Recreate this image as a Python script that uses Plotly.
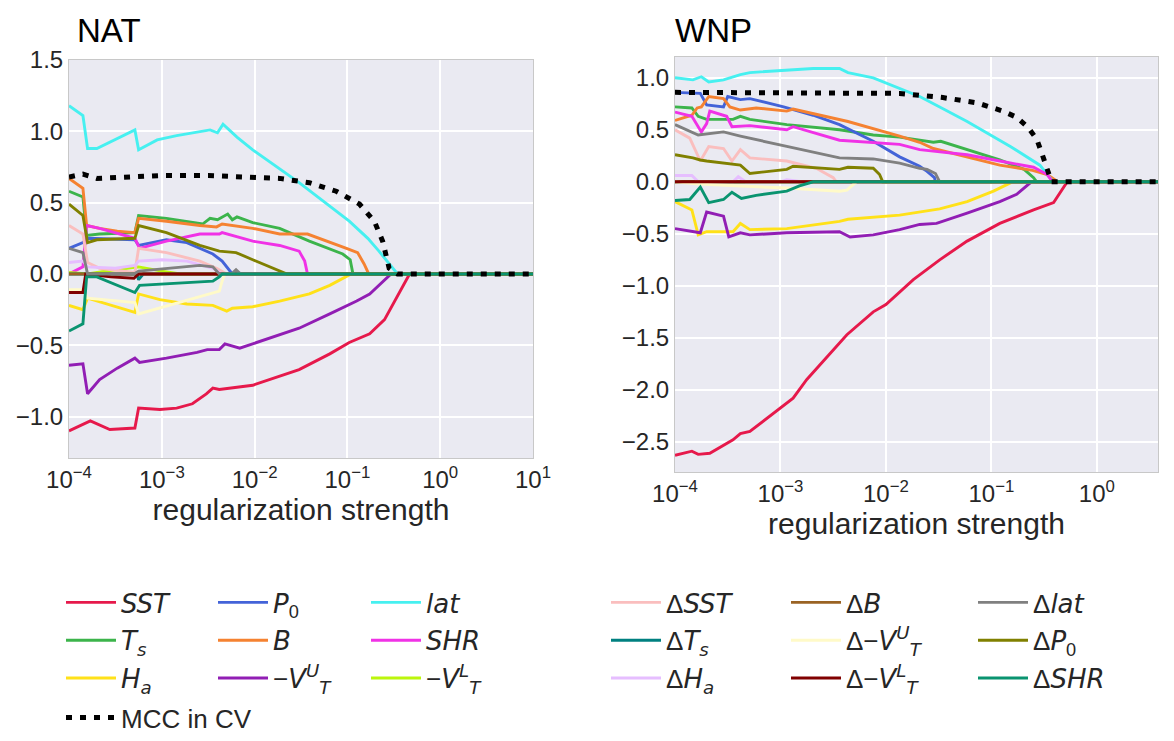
import plotly.graph_objects as go

# ---------------- data: (log10(regularization strength), coefficient) ----------------
NAT_SST = [(-4.00,-1.10),(-3.77,-1.03),(-3.56,-1.09),(-3.29,-1.08),(-3.25,-0.94),(-3.02,-0.95),(-2.84,-0.94),
           (-2.67,-0.91),(-2.52,-0.84),(-2.45,-0.80),(-2.38,-0.81),(-2.24,-0.80),(-2.02,-0.78),(-1.52,-0.67),
           (-1.19,-0.56),(-0.98,-0.48),(-0.76,-0.42),(-0.60,-0.32),(-0.49,-0.19),(-0.33,0.0),(1.0,0.0)]
NAT_TS = [(-4.00,0.58),(-3.85,0.54),(-3.81,0.27),(-3.67,0.28),(-3.29,0.29),(-3.25,0.41),(-2.95,0.39),(-2.56,0.35),
          (-2.48,0.39),(-2.40,0.38),(-2.29,0.42),(-2.24,0.38),(-2.19,0.40),(-2.02,0.36),(-1.73,0.32),(-1.41,0.23),
          (-1.05,0.14),(-0.97,0.10),(-0.94,0.0),(1.0,0.0)]
NAT_HA = [(-4.00,-0.22),(-3.85,-0.25),(-3.80,-0.17),(-3.29,-0.27),(-3.25,-0.14),(-3.02,-0.18),(-2.73,-0.21),
          (-2.45,-0.22),(-2.30,-0.26),(-2.24,-0.24),(-2.02,-0.23),(-1.73,-0.19),(-1.41,-0.14),(-1.19,-0.08),
          (-0.96,0.0),(1.0,0.0)]
NAT_P0 = [(-4.00,0.18),(-3.85,0.22),(-3.80,0.25),(-3.29,0.24),(-3.25,0.20),(-2.95,0.24),(-2.73,0.22),(-2.45,0.14),
          (-2.35,0.09),(-2.27,0.02),(-2.24,0.0),(1.0,0.0)]
NAT_B = [(-4.00,0.67),(-3.85,0.60),(-3.81,0.34),(-3.67,0.32),(-3.48,0.30),(-3.29,0.29),(-3.25,0.39),(-2.95,0.37),
         (-2.59,0.34),(-2.41,0.33),(-2.35,0.35),(-2.02,0.32),(-1.73,0.28),(-1.43,0.28),(-1.01,0.18),(-0.89,0.15),
         (-0.82,0.07),(-0.77,0.0),(1.0,0.0)]
NAT_VTU = [(-4.00,-0.64),(-3.85,-0.63),(-3.80,-0.84),(-3.67,-0.74),(-3.48,-0.66),(-3.29,-0.59),(-3.24,-0.62),
           (-2.95,-0.59),(-2.62,-0.55),(-2.51,-0.53),(-2.38,-0.53),(-2.32,-0.49),(-2.16,-0.52),(-2.02,-0.49),
           (-1.52,-0.38),(-1.19,-0.28),(-0.90,-0.19),(-0.76,-0.14),(-0.55,-0.01),(-0.53,0.0),(1.0,0.0)]
NAT_LAT = [(-4.00,1.18),(-3.85,1.11),(-3.80,0.88),(-3.70,0.88),(-3.29,1.01),(-3.25,0.87),(-3.05,0.94),(-2.84,0.97),
           (-2.48,1.01),(-2.40,0.99),(-2.34,1.05),(-2.19,0.96),(-2.02,0.87),(-1.73,0.74),(-1.52,0.64),(-0.98,0.37),
           (-0.78,0.25),(-0.66,0.16),(-0.46,0.0),(1.0,0.0)]
NAT_SHR = [(-4.00,0.0),(-3.85,0.05),(-3.81,0.34),(-3.67,0.32),(-3.29,0.25),(-3.24,0.18),(-2.95,0.23),(-2.59,0.28),
           (-2.38,0.28),(-2.35,0.29),(-2.02,0.23),(-1.73,0.20),(-1.52,0.16),(-1.46,0.09),(-1.43,0.0),(1.0,0.0)]
NAT_VTL = [(-4.00,0.01),(-3.80,0.0),(-3.50,0.03),(-3.25,0.05),(-3.00,0.02),(-2.80,0.0),(1.0,0.0)]
NAT_DSST = [(-4.00,0.34),(-3.85,0.28),(-3.80,0.08),(-3.67,0.04),(-3.29,0.01),(-3.25,0.18),(-2.95,0.15),
            (-2.59,0.09),(-2.41,0.04),(-2.30,0.0),(1.0,0.0)]
NAT_DTS = [(-4.00,0.0),(-3.27,0.0),(-3.25,-0.04),(-3.20,0.0),(1.0,0.0)]
NAT_DHA = [(-4.00,0.08),(-3.85,0.09),(-3.80,0.05),(-3.50,0.04),(-3.29,0.06),(-3.25,0.09),(-3.00,0.10),
           (-2.73,0.09),(-2.45,0.04),(-2.35,0.0),(1.0,0.0)]
NAT_DB = [(-4.00,0.0),(1.0,0.0)]
NAT_DVTU = [(-4.00,-0.11),(-3.85,-0.11),(-3.80,-0.17),(-3.29,-0.20),(-3.25,-0.28),(-2.38,-0.12),(-2.35,-0.05),
            (-2.32,0.0),(1.0,0.0)]
NAT_DVTL = [(-4.00,-0.13),(-3.85,-0.13),(-3.82,0.0),(-3.55,-0.02),(-3.30,-0.03),(-3.25,0.0),(1.0,0.0)]
NAT_DLAT = [(-4.00,0.18),(-3.85,0.15),(-3.80,0.0),(-3.30,0.0),(-3.25,0.02),(-2.59,0.06),(-2.45,0.05),(-2.38,0.0),
            (-2.25,0.0),(-2.20,0.03),(-2.15,0.0),(1.0,0.0)]
NAT_DP0 = [(-4.00,0.49),(-3.85,0.41),(-3.80,0.22),(-3.70,0.24),(-3.29,0.25),(-3.25,0.34),(-2.95,0.29),(-2.59,0.20),
           (-2.38,0.16),(-2.20,0.15),(-2.02,0.10),(-1.75,0.03),(-1.65,0.0),(1.0,0.0)]
NAT_DSHR = [(-4.00,-0.40),(-3.85,-0.35),(-3.81,-0.02),(-3.70,-0.02),(-3.29,-0.13),(-3.24,-0.08),(-2.45,-0.05),
            (-2.38,-0.02),(-2.35,0.0),(1.0,0.0)]
NAT_MCC = [(-4.00,0.68),(-3.85,0.70),(-3.70,0.67),(-3.40,0.68),(-3.00,0.69),(-2.50,0.69),(-2.02,0.68),(-1.73,0.67),
           (-1.41,0.64),(-1.12,0.58),(-0.87,0.49),(-0.71,0.37),(-0.62,0.23),(-0.55,0.04),(-0.46,0.0),(1.0,0.0)]

WNP_SST = [(-4.00,-2.63),(-3.84,-2.59),(-3.78,-2.62),(-3.67,-2.61),(-3.45,-2.48),(-3.38,-2.42),(-3.29,-2.40),
           (-3.00,-2.17),(-2.88,-2.08),(-2.75,-1.90),(-2.50,-1.61),(-2.37,-1.47),(-2.12,-1.25),(-2.00,-1.18),
           (-1.74,-0.94),(-1.49,-0.75),(-1.23,-0.57),(-0.92,-0.40),(-0.60,-0.27),(-0.41,-0.20),(-0.28,0.0),(0.58,0.0)]
WNP_TS = [(-4.00,0.72),(-3.84,0.71),(-3.78,0.63),(-3.70,0.60),(-3.45,0.60),(-3.38,0.63),(-3.29,0.60),(-2.94,0.55),
          (-2.44,0.50),(-2.12,0.45),(-1.87,0.43),(-1.68,0.40),(-1.55,0.38),(-1.48,0.39),(-1.23,0.31),(-0.92,0.21),
          (-0.69,0.12),(-0.60,0.04),(-0.57,0.0),(0.58,0.0)]
WNP_HA = [(-4.00,-0.19),(-3.84,-0.27),(-3.78,-0.51),(-3.70,-0.48),(-3.45,-0.48),(-3.38,-0.40),(-3.29,-0.46),
          (-2.94,-0.45),(-2.44,-0.38),(-2.36,-0.36),(-1.87,-0.32),(-1.68,-0.29),(-1.49,-0.26),(-1.23,-0.19),
          (-0.98,-0.09),(-0.82,-0.01),(-0.78,0.0),(0.58,0.0)]
WNP_P0 = [(-4.00,0.86),(-3.76,0.85),(-3.70,0.74),(-3.54,0.72),(-3.50,0.82),(-3.38,0.79),(-3.29,0.80),(-2.97,0.72),
          (-2.69,0.64),(-2.44,0.55),(-2.12,0.39),(-1.87,0.24),(-1.68,0.15),(-1.61,0.10),(-1.54,0.04),(-1.53,0.0),
          (0.58,0.0)]
WNP_B = [(-4.00,0.59),(-3.84,0.64),(-3.79,0.71),(-3.75,0.72),(-3.68,0.82),(-3.54,0.80),(-3.48,0.72),(-3.38,0.69),
         (-3.23,0.71),(-2.94,0.68),(-2.88,0.70),(-2.44,0.60),(-2.36,0.58),(-1.87,0.44),(-1.68,0.38),(-1.55,0.32),
         (-1.23,0.24),(-0.92,0.16),(-0.61,0.11),(-0.47,0.07),(-0.40,0.02),(-0.38,0.0),(0.58,0.0)]
WNP_VTU = [(-4.00,-0.45),(-3.76,-0.49),(-3.70,-0.29),(-3.54,-0.33),(-3.49,-0.53),(-3.38,-0.49),(-3.29,-0.51),
           (-2.94,-0.49),(-2.44,-0.48),(-2.34,-0.53),(-2.12,-0.51),(-1.87,-0.46),(-1.68,-0.41),(-1.52,-0.40),
           (-1.23,-0.30),(-0.92,-0.19),(-0.76,-0.12),(-0.66,-0.04),(-0.62,0.0),(0.58,0.0)]
WNP_LAT = [(-4.00,1.00),(-3.83,0.98),(-3.75,1.01),(-3.68,0.96),(-3.54,0.98),(-3.38,1.03),(-3.29,1.05),(-2.97,1.07),
           (-2.69,1.09),(-2.44,1.09),(-2.36,1.05),(-2.12,1.00),(-1.87,0.90),(-1.68,0.82),(-1.49,0.72),(-1.23,0.58),
           (-0.82,0.34),(-0.54,0.16),(-0.43,0.02),(-0.42,0.0),(0.58,0.0)]
WNP_SHR = [(-4.00,0.67),(-3.84,0.63),(-3.75,0.48),(-3.70,0.56),(-3.67,0.68),(-3.51,0.63),(-3.46,0.53),(-3.29,0.54),
           (-2.94,0.50),(-2.88,0.53),(-2.44,0.40),(-1.87,0.36),(-1.68,0.31),(-1.23,0.26),(-0.92,0.20),(-0.60,0.14),
           (-0.47,0.07),(-0.43,0.02),(-0.42,0.0),(0.58,0.0)]
WNP_VTL = [(-4.00,0.0),(0.58,0.0)]
WNP_DSST = [(-4.00,0.50),(-3.86,0.42),(-3.76,0.20),(-3.68,0.34),(-3.54,0.32),(-3.46,0.20),(-3.38,0.31),(-3.29,0.23),
            (-2.94,0.20),(-2.66,0.13),(-2.50,0.04),(-2.47,0.0),(0.58,0.0)]
WNP_DTS = [(-4.00,0.0),(0.58,0.0)]
WNP_DHA = [(-4.00,0.06),(-3.84,0.06),(-3.78,0.0),(-3.45,0.0),(-3.40,0.05),(-3.33,0.0),(-3.00,0.0),(-2.94,0.02),
           (-2.80,0.0),(0.58,0.0)]
WNP_DB = [(-4.00,0.0),(0.58,0.0)]
WNP_DVTU = [(-4.00,0.0),(-3.80,-0.02),(-3.38,-0.04),(-2.94,-0.06),(-2.44,-0.09),(-2.37,-0.08),(-2.28,0.0),(0.58,0.0)]
WNP_DVTL = [(-4.00,0.0),(0.58,0.0)]
WNP_DLAT = [(-4.00,0.55),(-3.78,0.45),(-3.54,0.48),(-3.38,0.44),(-2.94,0.34),(-2.44,0.23),(-2.12,0.22),(-1.87,0.18),
            (-1.68,0.13),(-1.61,0.12),(-1.53,0.08),(-1.49,0.0),(0.58,0.0)]
WNP_DP0 = [(-4.00,0.26),(-3.83,0.23),(-3.76,0.21),(-3.70,0.20),(-3.38,0.16),(-3.29,0.08),(-2.94,0.12),(-2.88,0.15),
           (-2.44,0.12),(-2.36,0.14),(-2.12,0.13),(-2.06,0.07),(-2.03,0.0),(0.58,0.0)]
WNP_DSHR = [(-4.00,-0.18),(-3.86,-0.17),(-3.76,-0.05),(-3.68,-0.20),(-3.54,-0.17),(-3.46,-0.10),(-3.37,-0.16),
            (-3.23,-0.13),(-2.94,-0.09),(-2.82,-0.04),(-2.69,0.0),(0.58,0.0)]
WNP_MCC = [(-4.00,0.86),(-3.00,0.86),(-2.00,0.85),(-1.87,0.85),(-1.46,0.81),(-1.14,0.76),(-0.89,0.68),(-0.76,0.62),
           (-0.65,0.52),(-0.57,0.41),(-0.52,0.27),(-0.47,0.13),(-0.43,0.0),(0.58,0.0)]

NAT_XTICK_EXP = [-4, -3, -2, -1, 0, 1]
WNP_XTICK_EXP = [-4, -3, -2, -1, 0]

IT = '<span style="font-family:DejaVu Sans"><i>%s</i></span>'

# label, colour, NAT series, WNP series, legend column
SERIES = [
    (IT % "SST", "#e6194b", NAT_SST, WNP_SST, "legend"),
    (IT % "T<sub>s</sub>", "#3cb44b", NAT_TS, WNP_TS, "legend"),
    (IT % "H<sub>a</sub>", "#ffe119", NAT_HA, WNP_HA, "legend"),
    (IT % "P" + "<sub>0</sub>", "#4363d8", NAT_P0, WNP_P0, "legend2"),
    (IT % "B", "#f58231", NAT_B, WNP_B, "legend2"),
    ("\u2212" + IT % "V<sup>U</sup><sub>T</sub>", "#911eb4", NAT_VTU, WNP_VTU, "legend2"),
    (IT % "lat", "#46f0f0", NAT_LAT, WNP_LAT, "legend3"),
    (IT % "SHR", "#f032e6", NAT_SHR, WNP_SHR, "legend3"),
    ("\u2212" + IT % "V<sup>L</sup><sub>T</sub>", "#bcf60c", NAT_VTL, WNP_VTL, "legend3"),
    ("\u0394" + IT % "SST", "#fabebe", NAT_DSST, WNP_DSST, "legend4"),
    ("\u0394" + IT % "T<sub>s</sub>", "#008080", NAT_DTS, WNP_DTS, "legend4"),
    ("\u0394" + IT % "H<sub>a</sub>", "#e6beff", NAT_DHA, WNP_DHA, "legend4"),
    ("\u0394" + IT % "B", "#9a6324", NAT_DB, WNP_DB, "legend5"),
    ("\u0394\u2212" + IT % "V<sup>U</sup><sub>T</sub>", "#fffac8", NAT_DVTU, WNP_DVTU, "legend5"),
    ("\u0394\u2212" + IT % "V<sup>L</sup><sub>T</sub>", "#800000", NAT_DVTL, WNP_DVTL, "legend5"),
    ("\u0394" + IT % "lat", "#808080", NAT_DLAT, WNP_DLAT, "legend6"),
    ("\u0394" + IT % "P" + "<sub>0</sub>", "#808000", NAT_DP0, WNP_DP0, "legend6"),
    ("\u0394" + IT % "SHR", "#0a9470", NAT_DSHR, WNP_DSHR, "legend6"),
]

FONT = "Liberation Sans"
OFF = 8                      # page body margin
W, H = 1174 - OFF, 741 - OFF

fig = go.Figure()
for i, (name, col, nat, wnp, leg) in enumerate(SERIES):
    for k, (data, xa, ya) in enumerate([(nat, "x", "y"), (wnp, "x2", "y2")]):
        fig.add_trace(go.Scatter(
            x=[10 ** p[0] for p in data], y=[p[1] for p in data], mode="lines",
            line=dict(color=col, width=2.9), name=name, xaxis=xa, yaxis=ya,
            showlegend=(k == 0), legend=leg, legendgroup="g%d" % i, hoverinfo="skip"))

for k, (data, xa, ya) in enumerate([(NAT_MCC, "x", "y"), (WNP_MCC, "x2", "y2")]):
    fig.add_trace(go.Scatter(
        x=[10 ** p[0] for p in data], y=[p[1] for p in data], mode="lines",
        line=dict(color="black", width=5, dash="6px,8px"), name="MCC in CV",
        xaxis=xa, yaxis=ya, showlegend=(k == 0), legend="legend7", legendgroup="mcc", hoverinfo="skip"))


def px_x(p):
    return (p - OFF) / W


def px_y(p):
    return 1 - (p - OFF) / H


def pow_label(e):
    return "10<sup>%s</sup>" % (("\u2212%d" % -e) if e < 0 else str(e))


axis_common = dict(
    showgrid=True, gridcolor="white", gridwidth=1.6, zeroline=False, automargin=False,
    showline=True, linecolor="#c8c8c8", linewidth=1, mirror=True,
    ticks="", tickfont=dict(family=FONT, size=24, color="#262626"),
)
title_font = dict(family=FONT, size=30, color="#262626")

fig.update_layout(
    width=W, height=H, paper_bgcolor="white", plot_bgcolor="#eaeaf2",
    margin=dict(l=0, r=0, t=0, b=0),
    font=dict(family=FONT, color="#262626"),
    xaxis=dict(domain=[px_x(69), px_x(533)], type="log", range=[-4, 1],
               tickvals=[10 ** e for e in NAT_XTICK_EXP], ticktext=[pow_label(e) for e in NAT_XTICK_EXP],
               anchor="y", title=dict(text="regularization strength", font=title_font, standoff=2),
               **axis_common),
    yaxis=dict(domain=[px_y(458), px_y(60)], range=[-1.29, 1.5], dtick=0.5, tickformat=".1f",
               anchor="x", **axis_common),
    xaxis2=dict(domain=[px_x(675), px_x(1158)], type="log", range=[-4, 0.58],
                tickvals=[10 ** e for e in WNP_XTICK_EXP], ticktext=[pow_label(e) for e in WNP_XTICK_EXP],
                anchor="y2", title=dict(text="regularization strength", font=title_font, standoff=2),
                **axis_common),
    yaxis2=dict(domain=[px_y(472), px_y(57)], range=[-2.79, 1.2], dtick=0.5, tickformat=".1f",
                anchor="x2", **axis_common),
    annotations=[
        dict(text="NAT", x=px_x(75), y=px_y(30), xref="paper", yref="paper", xanchor="left", yanchor="middle",
             showarrow=False, font=dict(family=FONT, size=33, color="black")),
        dict(text="WNP", x=px_x(673), y=px_y(30), xref="paper", yref="paper", xanchor="left", yanchor="middle",
             showarrow=False, font=dict(family=FONT, size=33, color="black")),
    ],
)

leg_cols = {"legend": 78, "legend2": 230, "legend3": 383, "legend4": 623, "legend5": 803, "legend6": 990}
for key, xpx in leg_cols.items():
    fig.update_layout({key: dict(
        x=px_x(xpx - 17), y=px_y(579), xanchor="left", yanchor="top", bgcolor="rgba(0,0,0,0)",
        font=dict(family=FONT, size=26, color="#262626"), traceorder="grouped", tracegroupgap=1,
        itemwidth=50)})
fig.update_layout(legend7=dict(
    x=px_x(78 - 17), y=0.0, xanchor="left", yanchor="bottom", bgcolor="rgba(0,0,0,0)",
    font=dict(family=FONT, size=26, color="#262626"), itemwidth=50))

fig.write_html("out.html")
